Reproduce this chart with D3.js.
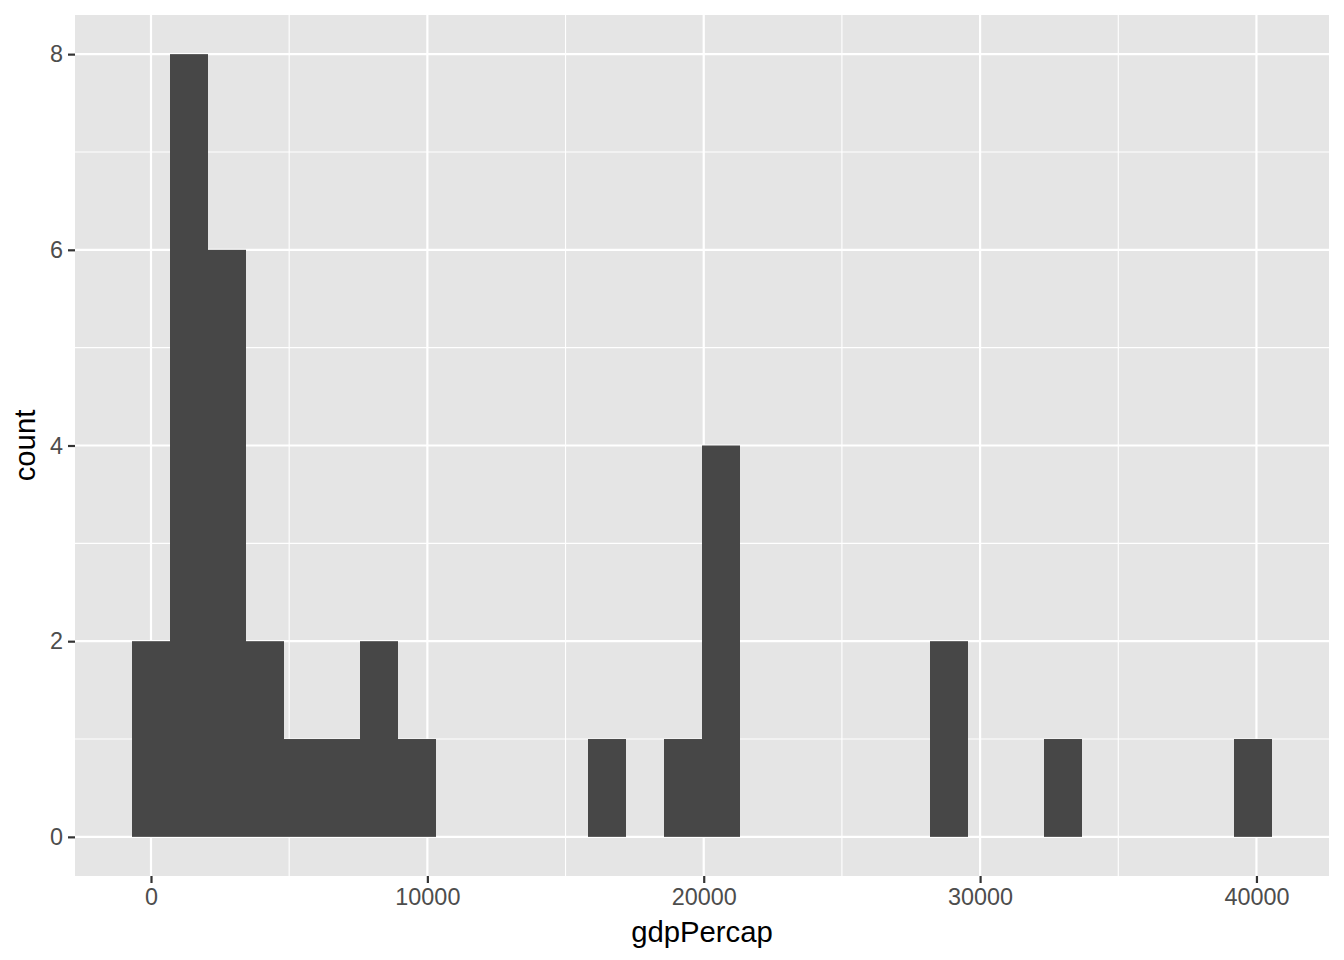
<!DOCTYPE html>
<html>
<head>
<meta charset="utf-8">
<script src="https://cdn.jsdelivr.net/npm/d3@7"></script>
<style>
  body { margin: 0; background: #fff; }
  text { font-family: "Liberation Sans", Arial, sans-serif; }
</style>
</head>
<body>
<div id="chart"></div>
<script>
// histogram of gdpPercap, 30 bins centred on multiples of binWidth
const binWidth = 1375
const binCounts = [2, 8, 6, 2, 1, 1, 2, 1, 0, 0, 0, 0, 1, 0, 1, 4, 0, 0, 0, 0, 0, 2, 0, 0, 1, 0, 0, 0, 0, 1]
const xTicks = [0, 10000, 20000, 30000, 40000]
const xMinor = [5000, 15000, 25000, 35000]
const yTicks = [0, 2, 4, 6, 8]
const yMinor = [1, 3, 5, 7]

const bins = binCounts.map((c, i) => ({
  x0: i * binWidth - binWidth / 2,
  x1: i * binWidth + binWidth / 2,
  count: c
}))

const margin = { top: 15, left: 75, right: 15, bottom: 84 }
const W = 1344
const H = 960
const width = W - margin.left - margin.right
const height = H - margin.top - margin.bottom

const svg = d3
  .select('#chart')
  .append('svg')
  .attr('width', W)
  .attr('height', H)

const g = svg
  .append('g')
  .attr('transform', 'translate(' + margin.left + ',' + margin.top + ')')

// ggplot style 5% expansion
const xMin = bins[0].x0
const xMax = bins[bins.length - 1].x1
const xPad = (xMax - xMin) * 0.05
const yMax = d3.max(binCounts)

const x = d3.scaleLinear().domain([xMin - xPad, xMax + xPad]).range([0, width])
const y = d3.scaleLinear().domain([-yMax * 0.05, yMax * 1.05]).range([height, 0])

g.append('rect')
  .attr('width', width)
  .attr('height', height)
  .attr('fill', '#E5E5E5')

// minor grid
g.selectAll('.xminor').data(xMinor).enter().append('line')
  .attr('x1', d => x(d)).attr('x2', d => x(d))
  .attr('y1', 0).attr('y2', height)
  .attr('stroke', '#fff').attr('stroke-width', 1.1)
g.selectAll('.yminor').data(yMinor).enter().append('line')
  .attr('y1', d => y(d)).attr('y2', d => y(d))
  .attr('x1', 0).attr('x2', width)
  .attr('stroke', '#fff').attr('stroke-width', 1.1)

// major grid
g.selectAll('.xmajor').data(xTicks).enter().append('line')
  .attr('x1', d => x(d)).attr('x2', d => x(d))
  .attr('y1', 0).attr('y2', height)
  .attr('stroke', '#fff').attr('stroke-width', 2.2)
g.selectAll('.ymajor').data(yTicks).enter().append('line')
  .attr('y1', d => y(d)).attr('y2', d => y(d))
  .attr('x1', 0).attr('x2', width)
  .attr('stroke', '#fff').attr('stroke-width', 2.2)

// bars
g.selectAll('.bar')
  .data(bins.filter(d => d.count > 0))
  .enter()
  .append('rect')
  .attr('class', 'bar')
  .attr('x', d => x(d.x0))
  .attr('width', d => x(d.x1) - x(d.x0))
  .attr('y', d => y(d.count))
  .attr('height', d => y(0) - y(d.count))
  .attr('fill', '#474747')

// axes
const xAxis = d3.axisBottom(x).tickValues(xTicks).tickFormat(d3.format('d')).tickSize(7).tickPadding(5)
const yAxis = d3.axisLeft(y).tickValues(yTicks).tickFormat(d3.format('d')).tickSize(7).tickPadding(5)

const xg = g.append('g')
  .attr('transform', 'translate(0,' + height + ')')
  .call(xAxis)
const yg = g.append('g').call(yAxis)

;[xg, yg].forEach(a => {
  a.select('.domain').remove()
  a.selectAll('.tick line').attr('stroke', '#333333').attr('stroke-width', 2.2)
  a.selectAll('.tick text')
    .attr('fill', '#4D4D4D')
    .style('font-size', '23.4px')
    .style('font-family', '"Liberation Sans", Arial, sans-serif')
})

// titles
svg.append('text')
  .attr('x', margin.left + width / 2)
  .attr('y', 942)
  .attr('text-anchor', 'middle')
  .style('font-size', '29.3px')
  .attr('fill', '#000')
  .text('gdpPercap')

svg.append('text')
  .attr('transform', 'translate(35,' + (margin.top + height / 2) + ') rotate(-90)')
  .attr('text-anchor', 'middle')
  .style('font-size', '29.3px')
  .attr('fill', '#000')
  .text('count')
</script>
</body>
</html>
